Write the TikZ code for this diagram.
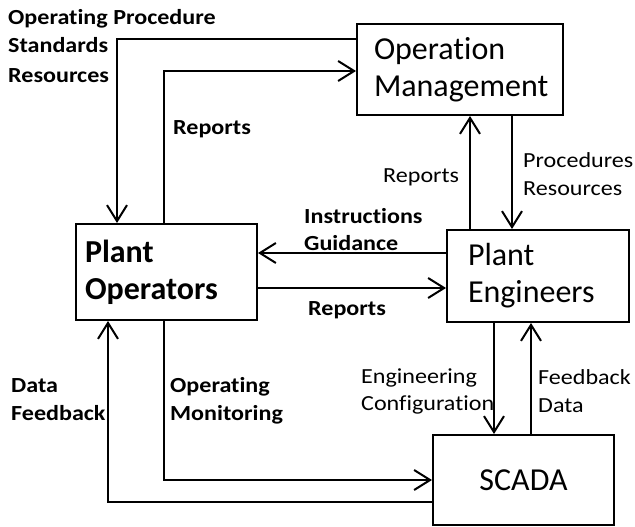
\documentclass[tikz,border=0pt]{standalone}
\usepackage{fontspec}
\setmainfont[Ligatures=NoCommon]{Carlito}
\newfontfamily\lblfont[FakeStretch=1.12,Ligatures=NoCommon]{Carlito}
\usetikzlibrary{arrows.meta}
\begin{document}
\begin{tikzpicture}[x=1pt,y=-1pt,
  box/.style={draw,line width=2pt,rectangle,align=left,font=\fontsize{32}{37}\selectfont,inner ysep=0pt},
  arr/.style={line width=2pt,-{Straight Barb[length=16pt,width=20pt]}},
  lb/.style={anchor=base west,inner sep=0pt,font=\lblfont\fontsize{21.5}{28}\selectfont\bfseries},
  lr/.style={anchor=base west,inner sep=0pt,font=\lblfont\fontsize{21.5}{28}\selectfont}]
\useasboundingbox (0,0) rectangle (635,527);
\node[box,minimum width=206pt,minimum height=91pt,text width=172pt,inner xsep=17pt] (OM) at (460,69.5) {Operation\\Management};
\node[box,minimum width=182pt,minimum height=92pt,text width=140pt,inner xsep=21pt] (PE) at (538,276) {Plant\\Engineers};
\node[box,minimum width=181pt,minimum height=96pt,text width=163pt,inner xsep=9pt,font=\fontsize{32}{37}\selectfont\bfseries] (PO) at (166.5,272) {Plant\\Operators};
\node[box,minimum width=181pt,minimum height=90pt,align=center] (SC) at (523.5,480) {SCADA};
% connectors
\draw[arr] (OM.west |- 0,39) -| (PO.north -| 117,0);
\draw[arr] (PO.north -| 164,0) |- (OM.west |- 0,71);
\draw[arr] (PE.north -| 470,0) -- (OM.south -| 470,0);
\draw[arr] (OM.south -| 512,0) -- (PE.north -| 512,0);
\draw[arr] (PE.west |- 0,253) -- (PO.east |- 0,253);
\draw[arr] (PO.east |- 0,288) -- (PE.west |- 0,288);
\draw[arr] (PE.south -| 494,0) -- (SC.north -| 494,0);
\draw[arr] (SC.north -| 531,0) -- (PE.south -| 531,0);
\draw[arr] (PO.south -| 164,0) |- (SC.west |- 0,480);
\draw[arr] (SC.west |- 0,502) -| (PO.south -| 108,0);
% labels
\node[lb] (t1) at (8,25) {Operating Procedure};
\node[lb] (t2) at (8,53) {Standards};
\node[lb] (t3) at (8,82) {Resources};
\node[lb] (t4) at (173,135) {Reports};
\node[lr] (t5) at (383,182) {Reports};
\node[lr] (t6) at (523,167) {Procedures};
\node[lr] (t7) at (523,195) {Resources};
\node[lb] (t8) at (304,223) {Instructions};
\node[lb] (t9) at (304,250) {Guidance};
\node[lb] (t10) at (308,315) {Reports};
\node[lr] (t11) at (361,383) {Engineering};
\node[lr] (t12) at (361,410) {Configuration};
\node[lr] (t13) at (538,384) {Feedback};
\node[lr] (t14) at (538,412) {Data};
\node[lb] (t15) at (11,392) {Data};
\node[lb] (t16) at (11,420) {Feedback};
\node[lb] (t17) at (170,392) {Operating};
\node[lb] (t18) at (170,420) {Monitoring};
\end{tikzpicture}
\end{document}
